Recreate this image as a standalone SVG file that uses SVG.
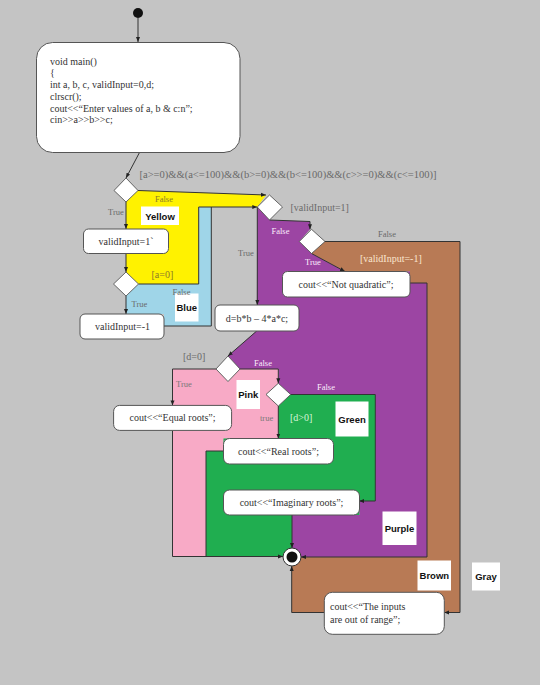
<svg xmlns="http://www.w3.org/2000/svg" width="540" height="685" viewBox="0 0 540 685">
<style>
.box{fill:#fff;stroke:#555;stroke-width:1}
.dia{fill:#fff;stroke:#444;stroke-width:0.8}
.t{font-family:"Liberation Serif","Times New Roman",serif;font-size:10px;fill:#333}
.c{text-anchor:middle}
.lb{font-family:"Liberation Serif","Times New Roman",serif;font-size:8.5px;fill:#6a6a6a}
.lw{font-family:"Liberation Serif","Times New Roman",serif;font-size:8.5px;fill:#fbeefb}
.g{font-size:10px}
.tag{fill:#fff}
.tagt{font-family:"Liberation Sans",Arial,sans-serif;font-size:9.5px;font-weight:bold;fill:#111;text-anchor:middle}
.con{fill:none;stroke:#333;stroke-width:1}
</style>
<defs>
<marker id="arr" viewBox="0 0 10 10" refX="10" refY="5" markerWidth="5" markerHeight="5" orient="auto" markerUnits="userSpaceOnUse">
<path d="M0,1 L10,5 L0,9 Z" fill="#222"/>
</marker>
</defs>
<rect x="0" y="0" width="540" height="685" fill="#c4c4c4"/>

<g id="regions">
<path d="M325,241.5 L460,241.5 L460,612.5 L291.7,612.5 L291.7,557 L427,557 L427,283 L410,283 L410,271.5 L345,271.5 L311.5,253.5 Z" fill="#b87a55"/>
<path d="M257.3,207 L269.5,220 L310,221.5 L310,229.3 L299.3,241.5 L311.5,253.5 L345,271.5 L410,271.5 L410,283 L427,283 L427,557 L292,557 L292,515 L359.3,515 L359.3,501 L375.3,501 L375.3,394.5 L290.7,394.5 L278.3,383.3 L278.3,369 L240,369 L228,356 L256.7,331 Z" fill="#9c45a3"/>
<path d="M172.5,369 L216,369 L228,381.5 L240,369 L278.3,369 L278.3,383.3 L266,394.3 L278.3,406 L278.3,438.5 L223.5,438.5 L223.5,451 L206,451 L206,556.5 L172.5,556.5 Z" fill="#f8aac6"/>
<path d="M278.3,406 L290.7,394.5 L375.3,394.5 L375.3,501 L359.3,501 L359.3,515 L292,515 L292,556.5 L206,556.5 L206,451 L223.5,451 L223.5,438.5 L278.3,438.5 Z" fill="#20ae50"/>
<path d="M138,190.5 L266,195 L257.3,207 L198.7,207 L198.7,284 L138.5,284 L126,272 L126,202 Z" fill="#fff200"/>
<path d="M138.5,284 L198.7,284 L198.7,207 L211.3,207 L211.3,326 L164,326 L164,314 L126,314 L126,296 Z" fill="#9fd5e8"/>
</g>

<g id="tag-yellow"><rect class="tag" x="141" y="206.5" width="38" height="18.5"/><text class="tagt" x="160" y="219.5">Yellow</text></g>
<g id="tag-blue"><rect class="tag" x="175" y="293.5" width="23.5" height="28"/><text class="tagt" x="186.8" y="311">Blue</text></g>
<g id="tag-pink"><rect class="tag" x="236.5" y="380" width="23.5" height="29"/><text class="tagt" x="248.3" y="398">Pink</text></g>
<g id="tag-green"><rect class="tag" x="335.5" y="401.5" width="33" height="35"/><text class="tagt" x="352" y="422.5">Green</text></g>
<g id="tag-purple"><rect class="tag" x="382.5" y="511.5" width="34" height="33.5"/><text class="tagt" x="399.5" y="531.5">Purple</text></g>
<g id="tag-brown"><rect class="tag" x="417.5" y="560.5" width="33.5" height="30"/><text class="tagt" x="434.3" y="579">Brown</text></g>
<g id="tag-gray"><rect class="tag" x="472" y="562.5" width="28" height="28"/><text class="tagt" x="486" y="580">Gray</text></g>

<g id="connectors">
<path class="con" d="M138,18 L138,42" marker-end="url(#arr)"/>
<path class="con" d="M139.5,152.5 L126,178" marker-end="url(#arr)"/>
<path class="con" d="M126,202 L126,229" marker-end="url(#arr)"/>
<path class="con" d="M138,190.5 L266,195" marker-end="url(#arr)"/>
<path class="con" d="M126,253.5 L126,272" marker-end="url(#arr)"/>
<path class="con" d="M126,296 L126,314" marker-end="url(#arr)"/>
<path class="con" d="M138.5,284 L198.7,284 L198.7,207 L257.3,207" marker-end="url(#arr)"/>
<path class="con" d="M164,326 L211.3,326 L211.3,207"/>
<path class="con" d="M269.5,220 L310,221.5 L310,229.3" marker-end="url(#arr)"/>
<path class="con" d="M257.3,207 L257.3,305" marker-end="url(#arr)"/>
<path class="con" d="M311.5,253.5 L345,271.5" marker-end="url(#arr)"/>
<path class="con" d="M325,241.5 L460,241.5 L460,612.5 L444.3,612.5" marker-end="url(#arr)"/>
<path class="con" d="M410,283 L427,283 L427,557 L301,557" marker-end="url(#arr)"/>
<path class="con" d="M256.7,331 L228,356" marker-end="url(#arr)"/>
<path class="con" d="M216,369 L172.5,369 L172.5,405.4" marker-end="url(#arr)"/>
<path class="con" d="M240,369 L278.3,369 L278.3,383.3" marker-end="url(#arr)"/>
<path class="con" d="M278.3,406 L278.3,438.5" marker-end="url(#arr)"/>
<path class="con" d="M290.7,394.5 L375.3,394.5 L375.3,501 L359.3,501" marker-end="url(#arr)"/>
<path class="con" d="M172.5,430.4 L172.5,556.5 L283,556.5" marker-end="url(#arr)"/>
<path class="con" d="M223.5,451 L206,451 L206,556.5"/>
<path class="con" d="M292,515 L292,548" marker-end="url(#arr)"/>
<path class="con" d="M324.3,612.5 L291.7,612.5 L291.7,566" marker-end="url(#arr)"/>
</g>

<g id="labels">
<text class="lb g" x="139.5" y="177.5" textLength="297" lengthAdjust="spacingAndGlyphs">[a&gt;=0)&amp;&amp;(a&lt;=100)&amp;&amp;(b&gt;=0)&amp;&amp;(b&lt;=100)&amp;&amp;(c&gt;&gt;=0)&amp;&amp;(c&lt;=100)]</text>
<text class="lb" x="108" y="214.5">True</text>
<text class="lb" x="155" y="202" style="fill:#8a7a2a">False</text>
<text class="lb g" x="151.5" y="278" style="fill:#8a7a2a">[a=0]</text>
<text class="lb" x="172.5" y="294.5">False</text>
<text class="lb" x="131.5" y="307">True</text>
<text class="lb g" x="290.5" y="210.5">[validInput=1]</text>
<text class="lb" x="238" y="256">True</text>
<text class="lw" x="271.5" y="234">False</text>
<text class="lw" x="305" y="265">True</text>
<text class="lb" x="378" y="237">False</text>
<text class="lw g" x="360" y="262" style="fill:#fbe6cf">[validInput=-1]</text>
<text class="lb g" x="183" y="360">[d=0]</text>
<text class="lb" x="176" y="387" style="fill:#777">True</text>
<text class="lw" x="254" y="366">False</text>
<text class="lw" x="317" y="390">False</text>
<text class="lb" x="260" y="421" style="fill:#777">true</text>
<text class="lw g" x="290" y="421" style="fill:#d8f5d8">[d&gt;0]</text>
</g>

<g id="start"><circle cx="138" cy="13" r="5" fill="#111"/></g>

<g id="main">
<rect class="box" x="36.5" y="42.5" width="203.5" height="110" rx="16"/>
<text class="t" x="50" y="65">void main()</text>
<text class="t" x="50" y="76">{</text>
<text class="t" x="50" y="88">int a, b, c, validInput=0,d;</text>
<text class="t" x="50" y="99.5">clrscr();</text>
<text class="t" x="50" y="111.5">cout&lt;&lt;“Enter values of a, b &amp; c:n”;</text>
<text class="t" x="50" y="123">cin&gt;&gt;a&gt;&gt;b&gt;&gt;c;</text>
</g>

<g id="dec1"><path class="dia" d="M126,178 L138,190.5 L126,202 L114,190.5 Z"/></g>
<g id="valid1"><rect class="box" x="83.5" y="229" width="85" height="24.5" rx="5"/><text class="t c" x="126" y="244.5">validInput=1`</text></g>
<g id="dec3"><path class="dia" d="M126,272 L138.5,284 L126,296 L113.5,284 Z"/></g>
<g id="validm1"><rect class="box" x="80" y="314" width="84" height="25" rx="5"/><text class="t c" x="122.5" y="329.5">validInput=-1</text></g>
<g id="dec2"><path class="dia" d="M269.5,195 L282.5,207 L269.5,220 L257.3,207 Z"/></g>
<g id="dec4"><path class="dia" d="M311.5,229.3 L325,241.5 L311.5,253.5 L299.3,241.5 Z"/></g>
<g id="notquad"><rect class="box" x="282.5" y="271.5" width="127.5" height="25.5" rx="5"/><text class="t c" x="346" y="287.5">cout&lt;&lt;“Not quadratic”;</text></g>
<g id="disc"><rect class="box" x="215" y="305" width="84" height="26" rx="5"/><text class="t c" x="257" y="321.5">d=b*b – 4*a*c;</text></g>
<g id="dec5"><path class="dia" d="M228,356 L240,369 L228,381.5 L216,369 Z"/></g>
<g id="dec6"><path class="dia" d="M278.3,383.3 L290.7,394.5 L278.3,406 L266,394.5 Z"/></g>
<g id="equal"><rect class="box" x="113.6" y="405.4" width="118" height="25" rx="6"/><text class="t c" x="172.6" y="421">cout&lt;&lt;“Equal roots”;</text></g>
<g id="real"><rect class="box" x="223.5" y="438.5" width="110" height="25.5" rx="6"/><text class="t c" x="278.5" y="455">cout&lt;&lt;“Real roots”;</text></g>
<g id="imag"><rect class="box" x="223.5" y="490" width="136" height="25" rx="6"/><text class="t c" x="291.5" y="506">cout&lt;&lt;“Imaginary roots”;</text></g>
<g id="range"><rect class="box" x="324.3" y="592.3" width="120" height="42" rx="8"/><text class="t" x="330" y="609.5">cout&lt;&lt;“The inputs</text><text class="t" x="330" y="623">are out of range”;</text></g>
<g id="final"><circle cx="292" cy="557" r="9" fill="#fff" stroke="#333" stroke-width="1"/><circle cx="292" cy="557" r="5.5" fill="#111"/></g>
</svg>
